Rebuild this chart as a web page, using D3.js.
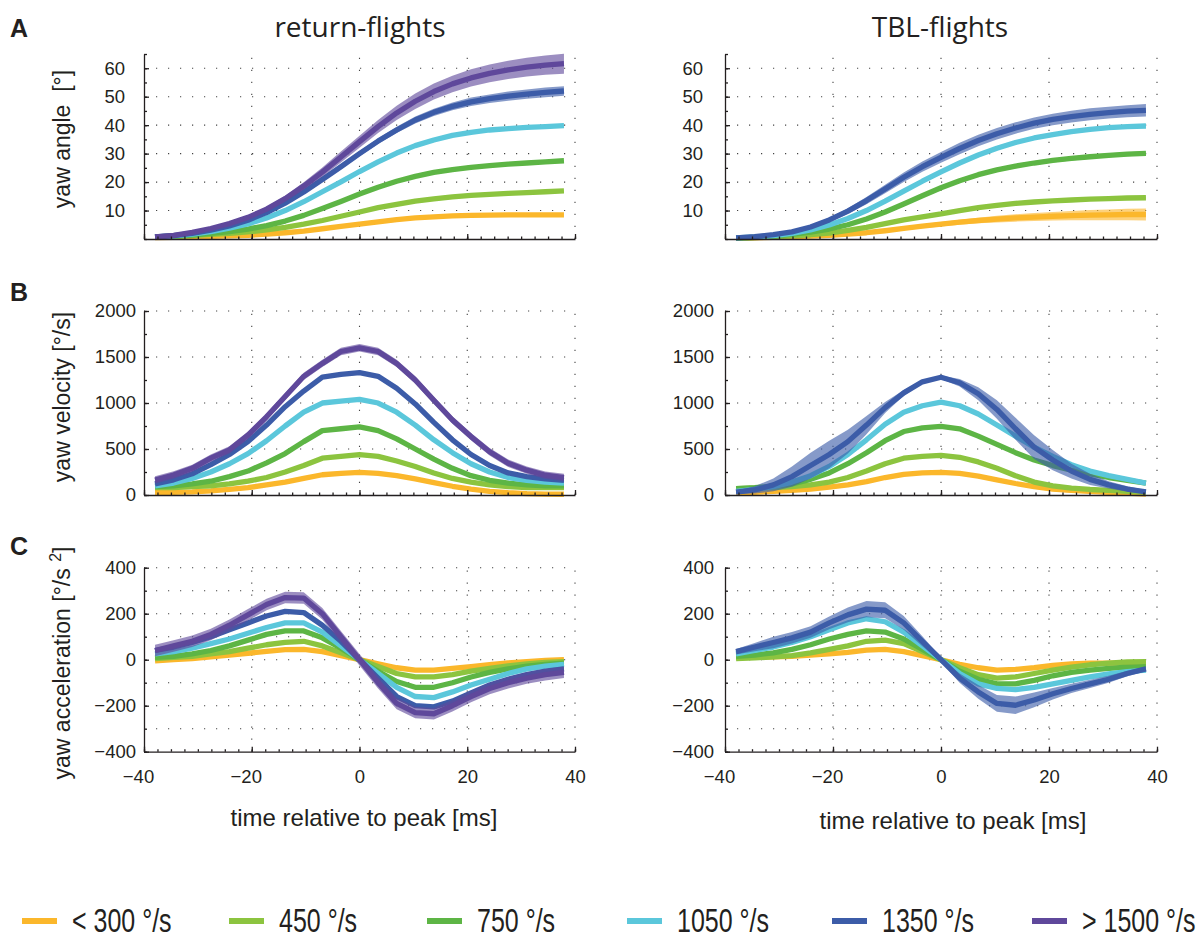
<!DOCTYPE html>
<html>
<head>
<meta charset="utf-8">
<script src="https://cdn.jsdelivr.net/npm/d3@7"></script>
<style>
  body { margin: 0; background: #fff; }
  text { fill: #231f20; }
</style>
</head>
<body>
<div id="chart"></div>
<script>
// time base (ms relative to peak velocity)
const times = [-37.95, -34.5, -31.05, -27.6, -24.15, -20.7, -17.25, -13.8, -10.35, -6.9, -3.45, 0,
               3.45, 6.9, 10.35, 13.8, 17.25, 20.7, 24.15, 27.6, 31.05, 34.5, 37.95];

const categories = ["< 300 °/s", "450 °/s", "750 °/s", "1050 °/s", "1350 °/s", "> 1500 °/s"];
const colors = ["#fbb72b", "#8cc43f", "#5db545", "#5bc7db", "#3c5ca8", "#5f489b"];

const xTicks = [-40, -20, 0, 20, 40];
const angleTicks = [10, 20, 30, 40, 50, 60];
const velTicks = [0, 500, 1000, 1500, 2000];
const accTicks = [-400, -200, 0, 200, 400];

// yaw angle [°], return flights (series in order of categories)
const angleReturn = [
  [0.5,0.6,0.7,0.9,1.1,1.3,1.7,2.2,2.8,3.6,4.4,5.2,6.0,6.8,7.4,7.8,8.1,8.3,8.4,8.5,8.5,8.5,8.5],
  [0.7,0.9,1.2,1.6,2.0,2.5,3.2,4.1,5.2,6.5,8.0,9.5,11.0,12.2,13.3,14.1,14.8,15.3,15.7,16.0,16.3,16.6,16.9],
  [0.7,1.0,1.4,2.0,2.6,3.5,4.7,6.3,8.3,10.7,13.2,15.8,18.2,20.3,22.0,23.4,24.4,25.2,25.8,26.3,26.7,27.1,27.5],
  [0.7,1.1,1.7,2.6,3.8,5.3,7.4,10.0,13.1,16.6,20.1,23.7,27.1,30.2,32.8,34.8,36.4,37.5,38.3,38.8,39.2,39.5,39.8],
  [0.7,1.2,2.0,3.1,4.6,6.6,9.3,12.6,16.5,20.9,25.4,30.0,34.4,38.3,41.8,44.5,46.6,48.2,49.3,50.2,50.9,51.5,52.0],
  [0.7,1.3,2.3,3.7,5.4,7.6,10.5,14.2,18.6,23.5,28.8,34.2,39.5,44.3,48.4,51.8,54.5,56.6,58.2,59.4,60.4,61.1,61.6]
];
// yaw angle [°], TBL flights (no > 1500 °/s group)
const angleTBL = [
  [0.3,0.4,0.6,0.8,1.0,1.3,1.7,2.2,2.9,3.7,4.5,5.2,5.9,6.5,7.0,7.4,7.7,8.0,8.2,8.4,8.5,8.6,8.6],
  [0.3,0.5,0.8,1.1,1.5,2.1,3.0,4.1,5.4,6.7,7.8,8.8,10.0,11.0,11.8,12.5,13.0,13.4,13.7,14.0,14.2,14.4,14.5],
  [0.3,0.6,1.0,1.6,2.4,3.5,5.0,7.0,9.5,12.3,15.2,18.0,20.5,22.6,24.3,25.6,26.7,27.6,28.3,28.9,29.4,29.8,30.1],
  [0.4,0.7,1.2,2.0,3.2,4.9,7.2,10.0,13.3,16.8,20.3,23.6,26.7,29.5,31.9,33.9,35.5,36.7,37.7,38.5,39.1,39.5,39.7],
  [0.4,0.8,1.5,2.5,4.2,6.7,9.8,13.5,17.6,21.7,25.4,28.7,31.8,34.6,37.0,39.0,40.7,42.0,43.0,43.8,44.4,44.9,45.2],
  null
];
// yaw velocity [°/s]
const velReturn = [
  [28,30,35,45,60,80,110,140,180,220,235,245,235,210,175,135,95,65,40,25,15,10,8],
  [80,80,90,100,120,150,190,250,320,400,420,440,420,370,310,240,180,140,110,90,80,80,80],
  [90,100,120,150,200,260,350,450,580,700,720,740,700,610,500,390,290,210,160,130,110,100,100],
  [100,130,180,250,340,450,590,750,900,1000,1020,1040,1000,900,760,600,460,340,250,190,160,140,130],
  [120,165,230,330,440,580,760,960,1130,1280,1310,1330,1290,1160,990,790,600,440,320,240,200,175,160],
  [163,217,290,400,490,650,850,1070,1290,1430,1560,1600,1560,1430,1250,1030,815,635,470,345,270,215,190]
];
const velTBL = [
  [20,30,40,50,65,85,110,145,190,225,240,245,235,205,165,125,90,65,50,40,30,20,10],
  [70,75,80,90,110,140,190,260,340,400,420,430,410,360,290,210,140,100,75,60,50,40,30],
  [70,80,95,120,170,240,340,460,590,690,730,745,720,640,550,460,380,320,270,230,190,160,130],
  [40,60,90,140,210,310,440,600,770,900,970,1010,970,880,760,640,520,420,330,260,210,170,130],
  [30,55,110,200,320,440,580,760,950,1110,1230,1280,1220,1100,930,720,520,380,260,170,110,65,35],
  null
];
// yaw acceleration
const accReturn = [
  [-5,0,5,12,20,28,36,44,45,35,18,0,-18,-35,-45,-45,-38,-30,-22,-14,-8,-3,0],
  [5,10,15,25,35,50,65,75,80,60,30,0,-30,-60,-75,-75,-65,-50,-38,-27,-18,-12,-8],
  [10,15,25,40,60,85,110,125,125,95,50,0,-50,-95,-120,-120,-100,-75,-55,-40,-28,-20,-15],
  [25,35,50,70,90,115,140,160,160,120,60,0,-60,-120,-160,-165,-140,-110,-85,-60,-40,-28,-20],
  [40,55,75,100,130,160,190,210,205,150,80,0,-80,-160,-200,-205,-180,-145,-110,-85,-65,-50,-40],
  [40,60,80,110,150,195,240,270,268,200,100,0,-100,-190,-230,-235,-200,-160,-125,-100,-80,-65,-55]
];
const accTBL = [
  [10,10,12,15,20,25,32,42,45,35,18,0,-20,-35,-45,-42,-35,-25,-18,-15,-15,-15,-15],
  [5,8,12,18,30,45,60,80,85,70,35,0,-35,-65,-80,-75,-60,-45,-32,-22,-15,-10,-8],
  [15,20,30,45,65,90,110,125,120,90,45,0,-50,-85,-105,-105,-90,-70,-55,-45,-38,-32,-30],
  [25,40,55,75,100,130,160,178,165,120,60,0,-60,-105,-125,-130,-120,-105,-90,-75,-62,-52,-45],
  [35,55,75,95,120,160,195,220,215,160,80,0,-80,-140,-190,-198,-175,-148,-125,-105,-85,-60,-40],
  null
];

// standard errors (shaded bands), a number means constant
const seAngleReturn = [0.2, 0.25, 0.3, 0.35,
  [0.1,0.1,0.1,0.2,0.2,0.3,0.4,0.5,0.6,0.7,0.8,0.9,1.0,1.1,1.2,1.3,1.4,1.5,1.5,1.6,1.6,1.7,1.7],
  [0.1,0.1,0.2,0.3,0.4,0.6,0.8,1.0,1.3,1.6,1.9,2.1,2.3,2.5,2.7,2.8,2.9,3.0,3.1,3.2,3.3,3.4,3.5]];
const seAngleTBL = [
  [0.1,0.1,0.1,0.1,0.2,0.2,0.3,0.4,0.5,0.6,0.7,0.8,0.9,1.0,1.2,1.3,1.4,1.5,1.6,1.8,1.9,2.0,2.1],
  0.5, 0.7, 0.5,
  [0.1,0.2,0.3,0.4,0.6,0.8,1.0,1.3,1.5,1.7,1.8,1.9,2.0,2.0,2.0,2.0,2.0,2.0,2.1,2.1,2.1,2.1,2.2],
  null];
const seVelReturn = [8, 8, 10, 12, 15, 40];
const seVelTBL = [
  [5,5,5,5,5,5,5,6,6,6,6,6,8,10,14,18,22,25,25,22,18,14,10],
  10, 12, 15,
  [20,40,70,110,140,150,130,100,60,30,20,20,40,70,100,120,130,110,80,60,40,30,20],
  null];
const seAccReturn = [4, 5, 6, 8, 8, 25];
const seAccTBL = [5, 6, 6, 8,
  [12,18,25,25,25,28,32,35,35,30,22,10,20,30,36,38,32,25,20,18,15,12,10],
  null];

const W = 1200, H = 941;
const svg = d3.select("#chart").append("svg")
    .attr("width", W).attr("height", H)
    .style("font-family", "'Liberation Sans', Arial, Helvetica, sans-serif");

svg.append("rect").attr("width", W).attr("height", H).attr("fill", "#fff");

const cols = [
  {x0: 144, x1: 575, title: "return-flights", tx: 360, labelX: 364, labelY: 826},
  {x0: 725, x1: 1157, title: "TBL-flights", tx: 940, labelX: 953, labelY: 829}
];
const rows = [
  {top: 54, bottom: 239, domain: [0, 65], ticks: angleTicks, grid: angleTicks,
   minor: d3.range(0, 66, 5), pad: [19, 22], letter: "A", letterY: 37, labelY: 139},
  {top: 311, bottom: 495, domain: [0, 2000], ticks: velTicks, grid: [500, 1000, 1500, 2000],
   minor: d3.range(0, 2001, 250), pad: [8, 11], letter: "B", letterY: 301, labelY: 397},
  {top: 567.7, bottom: 751.7, domain: [-400, 400], ticks: accTicks, grid: d3.range(-300, 401, 100),
   minor: d3.range(-400, 401, 100), pad: [8, 11], letter: "C", letterY: 555, labelY: 663}
];

const panelData = [
  [[angleReturn, seAngleReturn], [angleTBL, seAngleTBL]],
  [[velReturn, seVelReturn], [velTBL, seVelTBL]],
  [[accReturn, seAccReturn], [accTBL, seAccTBL]]
];

function seAt(e, k) { return Array.isArray(e) ? e[k] : e; }

rows.forEach((row, r) => {
  cols.forEach((col, c) => {
    const x = d3.scaleLinear().domain([-40, 40]).range([col.x0, col.x1]);
    const y = d3.scaleLinear().domain(row.domain).range([row.bottom, row.top]);
    const g = svg.append("g");

    // dotted grid
    g.selectAll(".hg").data(row.grid).enter().append("line")
        .attr("x1", col.x0).attr("x2", col.x1)
        .attr("y1", d => y(d)).attr("y2", d => y(d))
        .attr("stroke", "#444").attr("stroke-width", 1.1)
        .attr("stroke-dasharray", "1.2,10.8");
    g.selectAll(".vg").data([-20, 0, 20, 40]).enter().append("line")
        .attr("x1", d => x(d)).attr("x2", d => x(d))
        .attr("y1", row.bottom).attr("y2", row.top)
        .attr("stroke", "#444").attr("stroke-width", 1.1)
        .attr("stroke-dasharray", "1.2,10.8");

    // bands and lines
    const [series, errs] = panelData[r][c];
    series.forEach((vals, i) => {
      if (!vals) return;
      const pts = times.map((t, k) => ({t: t, v: vals[k], e: seAt(errs[i], k)}));
      const area = d3.area().x(d => x(d.t)).y0(d => y(d.v - d.e)).y1(d => y(d.v + d.e));
      const line = d3.line().x(d => x(d.t)).y(d => y(d.v));
      g.append("path").attr("d", area(pts))
          .attr("fill", colors[i]).attr("fill-opacity", 0.62);
      g.append("path").attr("d", line(pts))
          .attr("fill", "none").attr("stroke", colors[i])
          .attr("stroke-width", 5.3).attr("stroke-linejoin", "round");
    });

    // axes
    const yAxis = g.append("g").attr("transform", `translate(${col.x0},0)`)
        .call(d3.axisLeft(y).tickValues(row.ticks).tickSize(-5).tickSizeOuter(0)
            .tickPadding(row.pad[c]).tickFormat(d3.format("d")));
    const yMinor = g.append("g").attr("transform", `translate(${col.x0},0)`)
        .call(d3.axisLeft(y).tickValues(row.minor).tickSize(-3).tickFormat(""));
    yMinor.select(".domain").remove();

    const xAxis = g.append("g").attr("transform", `translate(0,${row.bottom})`)
        .call(d3.axisBottom(x).tickValues(xTicks).tickSize(-5).tickSizeOuter(0)
            .tickPadding(18).tickFormat(r === 2 ? d3.format("d") : ""));
    const xMinor = g.append("g").attr("transform", `translate(0,${row.bottom})`)
        .call(d3.axisBottom(x).tickValues(d3.range(-40, 41, 2.5)).tickSize(-2.5).tickFormat(""));
    xMinor.select(".domain").remove();

    [yAxis, yMinor, xAxis, xMinor].forEach(a => {
      a.attr("font-family", null).attr("font-size", null);
      a.selectAll("path,line").attr("stroke", "#231f20").attr("stroke-width", 1.3);
      a.selectAll("text").attr("font-size", 18.5).attr("fill", "#231f20");
    });
    xAxis.selectAll("text").attr("dx", d => d < 0 ? -6 : 0);

    // panel letter and y label (left column only)
    if (c === 0) {
      svg.append("text").attr("x", 10).attr("y", row.letterY)
          .attr("font-size", 25).attr("font-weight", "bold").text(row.letter);
      const lab = svg.append("text")
          .attr("transform", `translate(70,${row.labelY}) rotate(-90)`)
          .attr("text-anchor", "middle").attr("font-size", 23);
      if (r === 0) lab.text("yaw angle\u00a0\u00a0[°]");
      if (r === 1) lab.text("yaw velocity [°/s]");
      if (r === 2) {
        lab.append("tspan").text("yaw acceleration [°/s ");
        lab.append("tspan").attr("font-size", 16).attr("dy", -9).text("2");
        lab.append("tspan").attr("dy", 9).text("]");
      }
    }
  });
});

// column titles and x labels
cols.forEach(col => {
  svg.append("text").attr("x", col.tx).attr("y", 37)
      .attr("text-anchor", "middle").attr("font-size", 28)
      .attr("font-family", "'Open Sans', 'Noto Sans', sans-serif")
      .text(col.title);
  svg.append("text").attr("x", col.labelX).attr("y", col.labelY)
      .attr("text-anchor", "middle").attr("font-size", 24)
      .text("time relative to peak [ms]");
});

// legend
const legendX = [22, 229, 427, 627, 832, 1032];
const leg = svg.append("g").selectAll("g").data(categories).enter().append("g")
    .attr("transform", (d, i) => `translate(${legendX[i]},921)`);
leg.append("line").attr("x1", 0).attr("x2", 35)
    .attr("stroke", (d, i) => colors[i]).attr("stroke-width", 6);
leg.append("text")
    .attr("transform", "translate(50,0) scale(1,1.3)")
    .attr("dy", "0.35em").attr("font-size", 25)
    .text(d => d);
</script>
</body>
</html>
